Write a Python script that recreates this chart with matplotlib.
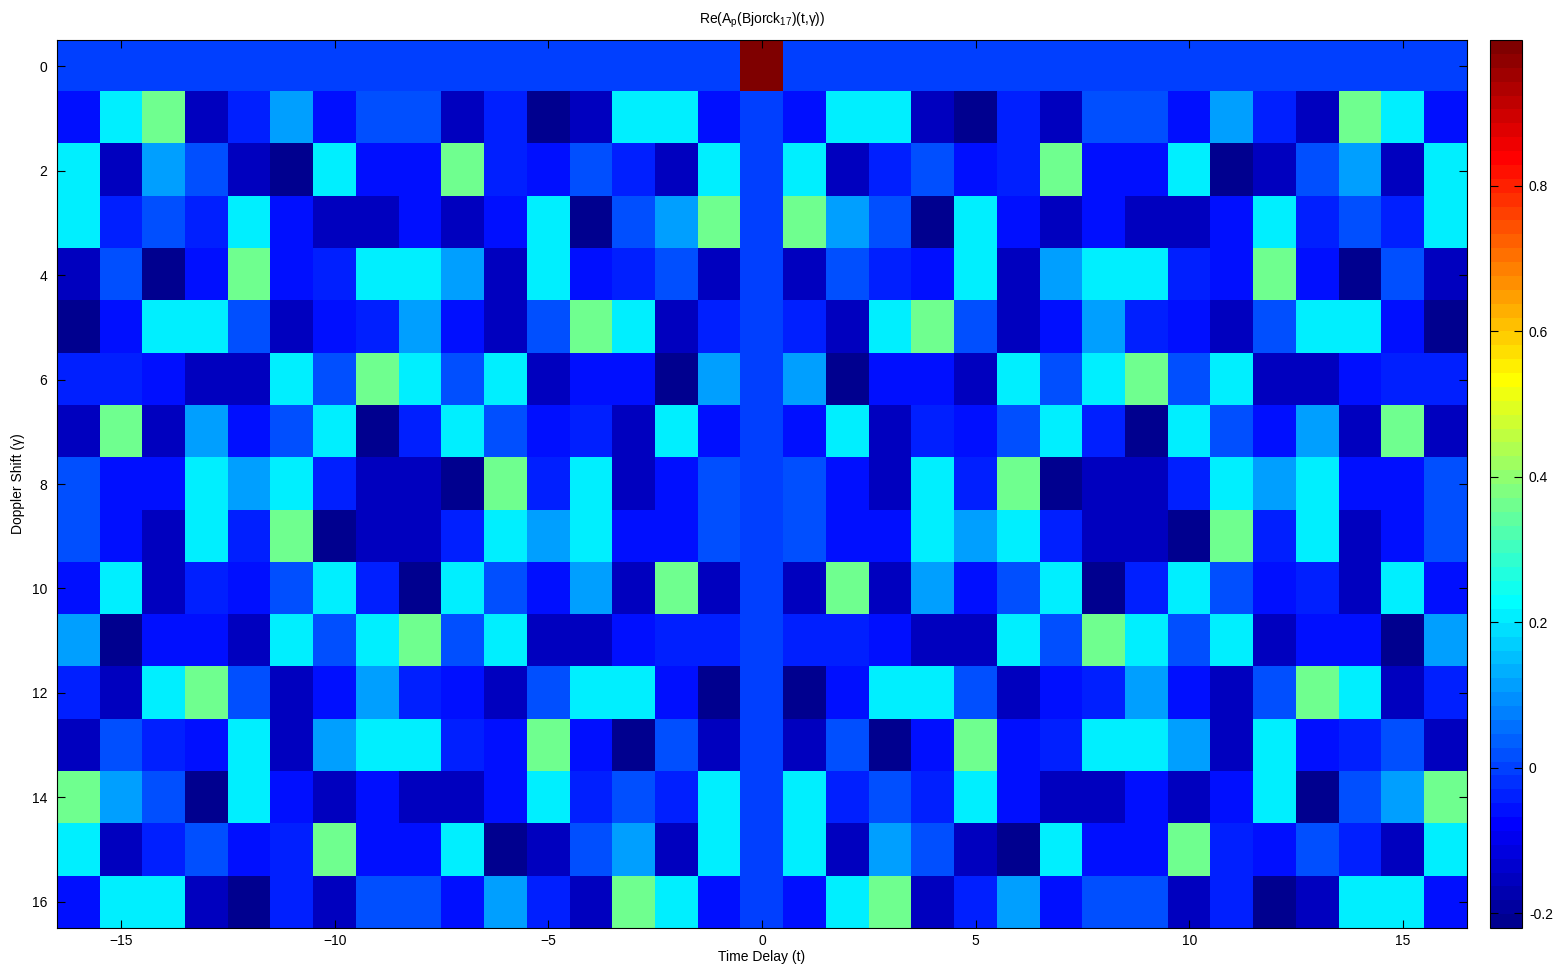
import numpy as np
import matplotlib
matplotlib.use("Agg")
import matplotlib.pyplot as plt
from matplotlib.colors import ListedColormap

plt.rcParams['font.family'] = ['Liberation Sans', 'DejaVu Sans']

# colour-level values
N = -0.21    # navy
D = -0.155   # dark blue
B = -0.06    # blue
b = -0.04    # blue, slightly lighter
Z = 0.0      # zero level
M = 0.02     # medium blue
A = 0.11     # azure
C = 0.21     # cyan
G = 0.36     # green
P = 1.0      # peak

time_delay = list(range(-16, 17))
doppler = list(range(0, 17))

row0 = [Z, Z, Z, Z, Z, Z, Z, Z, Z, Z, Z, Z, Z, Z, Z, Z, P, Z, Z, Z, Z, Z, Z, Z, Z, Z, Z, Z, Z, Z, Z, Z, Z]
row1 = [B, C, G, D, b, A, B, M, M, D, b, N, D, C, C, B, Z, B, C, C, D, N, b, D, M, M, B, A, b, D, G, C, B]
row2 = [C, D, A, M, D, N, C, B, B, G, b, B, M, b, D, C, Z, C, D, b, M, B, b, G, B, B, C, N, D, M, A, D, C]
row3 = [C, b, M, b, C, B, D, D, B, D, B, C, N, M, A, G, Z, G, A, M, N, C, B, D, B, D, D, B, C, b, M, b, C]
row4 = [D, M, N, B, G, B, b, C, C, A, D, C, B, b, M, D, Z, D, M, b, B, C, D, A, C, C, b, B, G, B, N, M, D]
row5 = [N, B, C, C, M, D, B, b, A, B, D, M, G, C, D, b, Z, b, D, C, G, M, D, B, A, b, B, D, M, C, C, B, N]
row6 = [b, b, B, D, D, C, M, G, C, M, C, D, B, B, N, A, Z, A, N, B, B, D, C, M, C, G, M, C, D, D, B, b, b]
row7 = [D, G, D, A, B, M, C, N, b, C, M, B, b, D, C, B, Z, B, C, D, b, B, M, C, b, N, C, M, B, A, D, G, D]
row8 = [M, B, B, C, A, C, b, D, D, N, G, b, C, D, B, M, Z, M, B, D, C, b, G, N, D, D, b, C, A, C, B, B, M]
row9 = [M, B, D, C, b, G, N, D, D, b, C, A, C, B, B, M, Z, M, B, B, C, A, C, b, D, D, N, G, b, C, D, B, M]
row10 = [B, C, D, b, B, M, C, b, N, C, M, B, A, D, G, D, Z, D, G, D, A, B, M, C, N, b, C, M, B, b, D, C, B]
row11 = [A, N, B, B, D, C, M, C, G, M, C, D, D, B, b, b, Z, b, b, B, D, D, C, M, G, C, M, C, D, B, B, N, A]
row12 = [b, D, C, G, M, D, B, A, b, B, D, M, C, C, B, N, Z, N, B, C, C, M, D, B, b, A, B, D, M, G, C, D, b]
row13 = [D, M, b, B, C, D, A, C, C, b, B, G, B, N, M, D, Z, D, M, N, B, G, B, b, C, C, A, D, C, B, b, M, D]
row14 = [G, A, M, N, C, B, D, B, D, D, B, C, b, M, b, C, Z, C, b, M, b, C, B, D, D, B, D, B, C, N, M, A, G]
row15 = [C, D, b, M, B, b, G, B, B, C, N, D, M, A, D, C, Z, C, D, A, M, D, N, C, B, B, G, b, B, M, b, D, C]
row16 = [B, C, C, D, N, b, D, M, M, B, A, b, D, G, C, B, Z, B, C, G, D, b, A, B, M, M, D, b, N, D, C, C, B]

rows = [row0, row1, row2, row3, row4, row5, row6, row7, row8, row9, row10,
        row11, row12, row13, row14, row15, row16]
data = np.array(rows)

vmin, vmax = -0.2206, 1.0

# MATLAB-style jet(64) colormap
def matlab_jet(m=64):
    n = int(np.ceil(m / 4))
    u = np.concatenate([np.arange(1, n + 1) / n, np.ones(n - 1), np.arange(n, 0, -1) / n])
    g = int(np.ceil(n / 2)) - (1 if m % 4 == 1 else 0) + np.arange(1, len(u) + 1)
    r = g + n
    bb = g - n
    J = np.zeros((m, 3))
    mask = r <= m
    J[r[mask] - 1, 0] = u[mask]
    mask = (g >= 1) & (g <= m)
    J[g[mask] - 1, 1] = u[mask]
    mask = bb >= 1
    J[bb[mask] - 1, 2] = u[mask]
    return ListedColormap(J)

cmap = matlab_jet(64)

fig = plt.figure(figsize=(15.6, 9.72), dpi=100)
ax = fig.add_axes([57 / 1560, 44 / 972, 1410 / 1560, 888 / 972])
im = ax.imshow(data, cmap=cmap, vmin=vmin, vmax=vmax, aspect='auto',
               interpolation='nearest',
               extent=[time_delay[0] - 0.5, time_delay[-1] + 0.5,
                       doppler[-1] + 0.5, doppler[0] - 0.5])

ax.set_xticks([-15, -10, -5, 0, 5, 10, 15])
ax.set_yticks([0, 2, 4, 6, 8, 10, 12, 14, 16])
ax.tick_params(direction='in', top=True, right=True, length=6, width=0.8,
               labelsize=10)
ax.tick_params(axis='x', pad=4)
ax.tick_params(axis='y', pad=7)
for s in ax.spines.values():
    s.set_linewidth(0.8)

ax.set_xlabel('Time Delay (t)', fontsize=10, labelpad=2)
ax.set_ylabel('Doppler Shift (\u03b3)', fontsize=10, labelpad=5)
ax.set_title(r'Re(A$_{\mathregular{p}}$(Bjorck$_{\mathregular{17}}$)(t,$\mathregular{\gamma}$))',
             fontsize=10, pad=12)

cax = fig.add_axes([1490 / 1560, 44 / 972, 32 / 1560, 888 / 972])
cb = fig.colorbar(im, cax=cax)
cb.set_ticks([-0.2, 0, 0.2, 0.4, 0.6, 0.8])
cb.set_ticklabels(['-0.2', '0', '0.2', '0.4', '0.6', '0.8'])
cax.tick_params(direction='in', left=True, right=True, length=6, width=0.8,
                labelsize=10, pad=5)
cb.outline.set_linewidth(0.8)

fig.savefig('out.png', dpi=100)
